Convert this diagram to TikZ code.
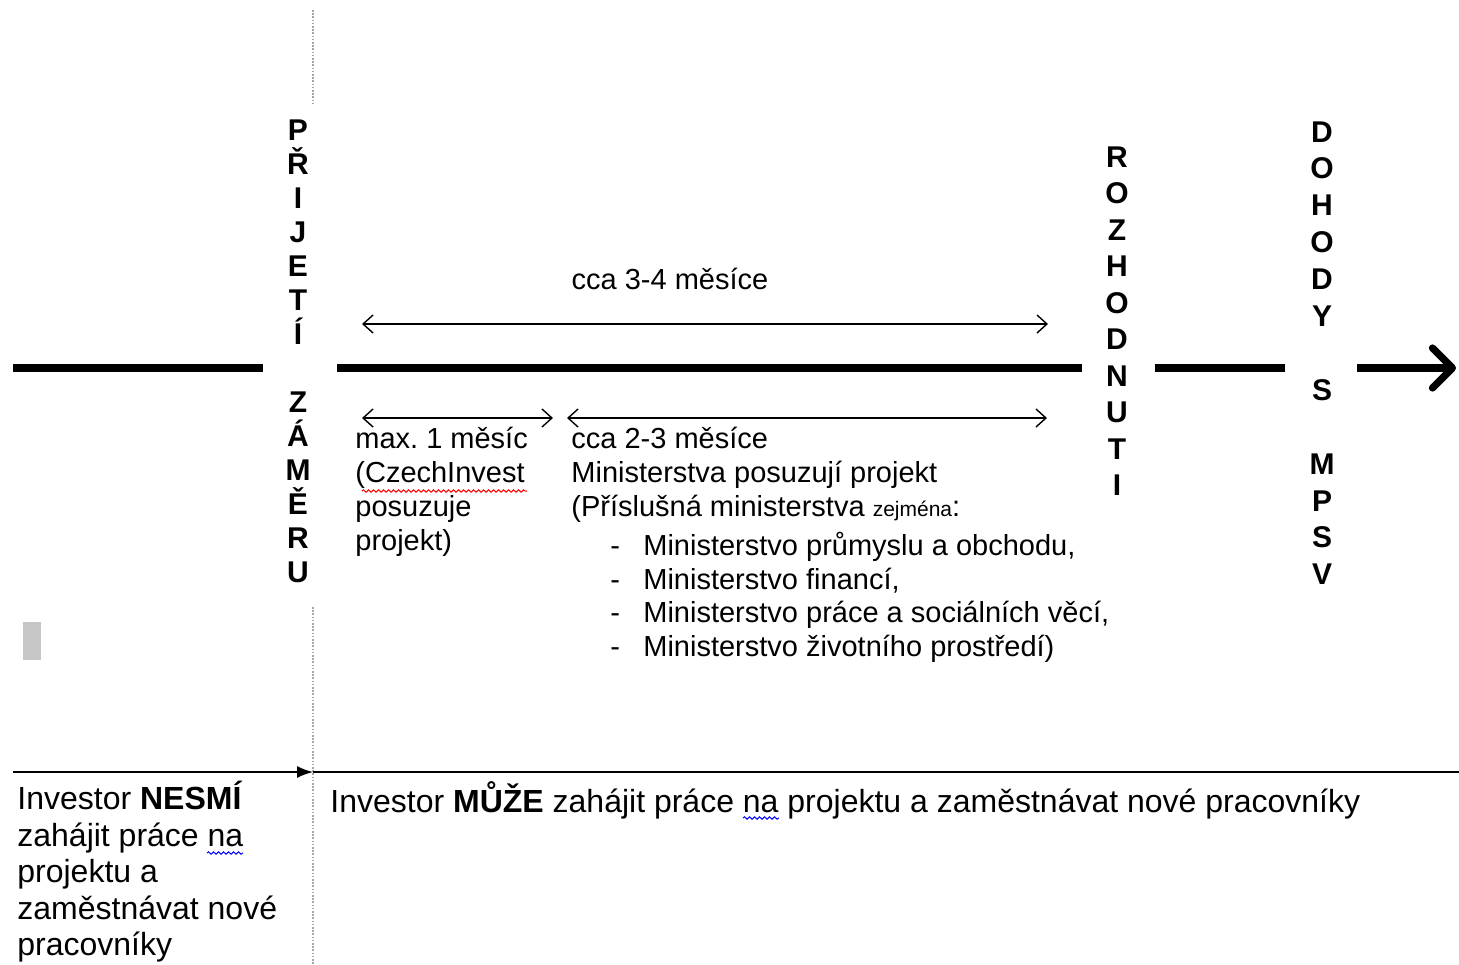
\documentclass[tikz,border=0pt]{standalone}
\usepackage{fontspec}
\setmainfont{Liberation Sans}
\usetikzlibrary{arrows.meta,decorations.pathmorphing}
\frenchspacing
\tikzset{
  thickline/.style={line width=3.6pt},
  dimarrow/.style={line width=0.7pt,{Straight Barb[length=5pt,width=9pt]}-{Straight Barb[length=5pt,width=9pt]}},
  guide/.style={gray!70,line width=0.6pt,dash pattern=on 0.8pt off 0.8pt},
  vword/.style={font=\bfseries\fontsize{15}{#1}\selectfont,align=center,inner sep=0pt,anchor=north},
  txt/.style={font=\fontsize{14.5}{17}\selectfont,align=left,inner sep=0pt,anchor=north west},
  bigtxt/.style={font=\fontsize{16}{18.25}\selectfont,align=left,inner sep=0pt,anchor=north west},
  wavyred/.style={red,line width=0.5pt,decorate,decoration={snake,amplitude=0.6pt,segment length=2.5pt}},
  wavyblue/.style={blue,line width=0.5pt,decorate,decoration={snake,amplitude=0.6pt,segment length=2.5pt}}
}
\begin{document}
\begin{tikzpicture}[x=0.5pt,y=-0.5pt]
\useasboundingbox (0,0) rectangle (1459,964);
% guide dotted lines
\coordinate (g1) at (313,10);
\coordinate (g2) at (313,105);
\coordinate (g3) at (313,607);
\coordinate (g4) at (313,964);
\draw[guide] (g1) -- (g2);
\draw[guide] (g3) -- (g4);
% main timeline
\coordinate (m0) at (13,368);
\coordinate (m1) at (263,368);
\coordinate (m2) at (337,368);
\coordinate (m3) at (1082,368);
\coordinate (m4) at (1155,368);
\coordinate (m5) at (1285,368);
\coordinate (m6) at (1357,368);
\coordinate (m7) at (1456,368);
\draw[thickline] (m0) -- (m1);
\draw[thickline] (m2) -- (m3);
\draw[thickline] (m4) -- (m5);
\draw[thickline,-{Straight Barb[length=10pt,width=20pt,round]}] (m6) -- (m7);
% vertical words
\node[vword=17] (prijeti) at (298,119) {P\\Ř\\I\\J\\E\\T\\Í\\\strut\\Z\\Á\\M\\Ě\\R\\U};
\node[vword=18.25] (rozhodnuti) at (1117,146) {R\\O\\Z\\H\\O\\D\\N\\U\\T\\I};
\node[vword=18.45] (dohody) at (1322,121) {D\\O\\H\\O\\D\\Y\\\strut\\S\\\strut\\M\\P\\S\\V};
% dimension arrows
\coordinate (a1l) at (362,324);
\coordinate (a1r) at (1048,324);
\draw[dimarrow] (a1l) -- (a1r);
\coordinate (a2l) at (362,418);
\coordinate (a2r) at (553,418);
\draw[dimarrow] (a2l) -- (a2r);
\coordinate (a3l) at (567,418);
\coordinate (a3r) at (1047,418);
\draw[dimarrow] (a3l) -- (a3r);
% labels
\node[txt,anchor=north] (l34) at (670,268) {cca 3-4 měsíce};
\node[txt] (l1) at (355,427) {max. 1 měsíc\\(CzechInvest\\posuzuje\\projekt)};
\node[txt] (l23) at (571,427) {cca 2-3 měsíce\\Ministerstva posuzují projekt\\(Příslušná ministerstva {\fontsize{10.5}{12}\selectfont zejména}:};
\node[txt,font=\fontsize{14.5}{16.75}\selectfont] (list) at (610,532) {\makebox[16.5pt][l]{-}Ministerstvo průmyslu a obchodu,\\\makebox[16.5pt][l]{-}Ministerstvo financí,\\\makebox[16.5pt][l]{-}Ministerstvo práce a sociálních věcí,\\\makebox[16.5pt][l]{-}Ministerstvo životního prostředí)};
\draw[wavyred] (362,491) -- (527,491);
% grey marker
\node[fill=black!22,minimum width=9pt,minimum height=19pt,inner sep=0pt] (gray) at (32,641) {};
% bottom line
\coordinate (b0) at (13,772);
\coordinate (b1) at (313,772);
\coordinate (b2) at (1459,772);
\draw[line width=0.8pt,-{Latex[length=8pt,width=6pt]}] (b0) -- (b1);
\draw[line width=0.8pt] (b1) -- (b2);
\node[bigtxt] (nesmi) at (17,781) {Investor \textbf{NESMÍ}\\zahájit práce na\\projektu a\\zaměstnávat nové\\pracovníky};
\node[bigtxt] (muze) at (330,781) {Investor \textbf{MŮŽE} zahájit práce na projektu a zaměstnávat nové pracovníky};
\draw[wavyblue] (207,853) -- (243,853);
\draw[wavyblue] (743,818) -- (779,818);
\end{tikzpicture}
\end{document}
